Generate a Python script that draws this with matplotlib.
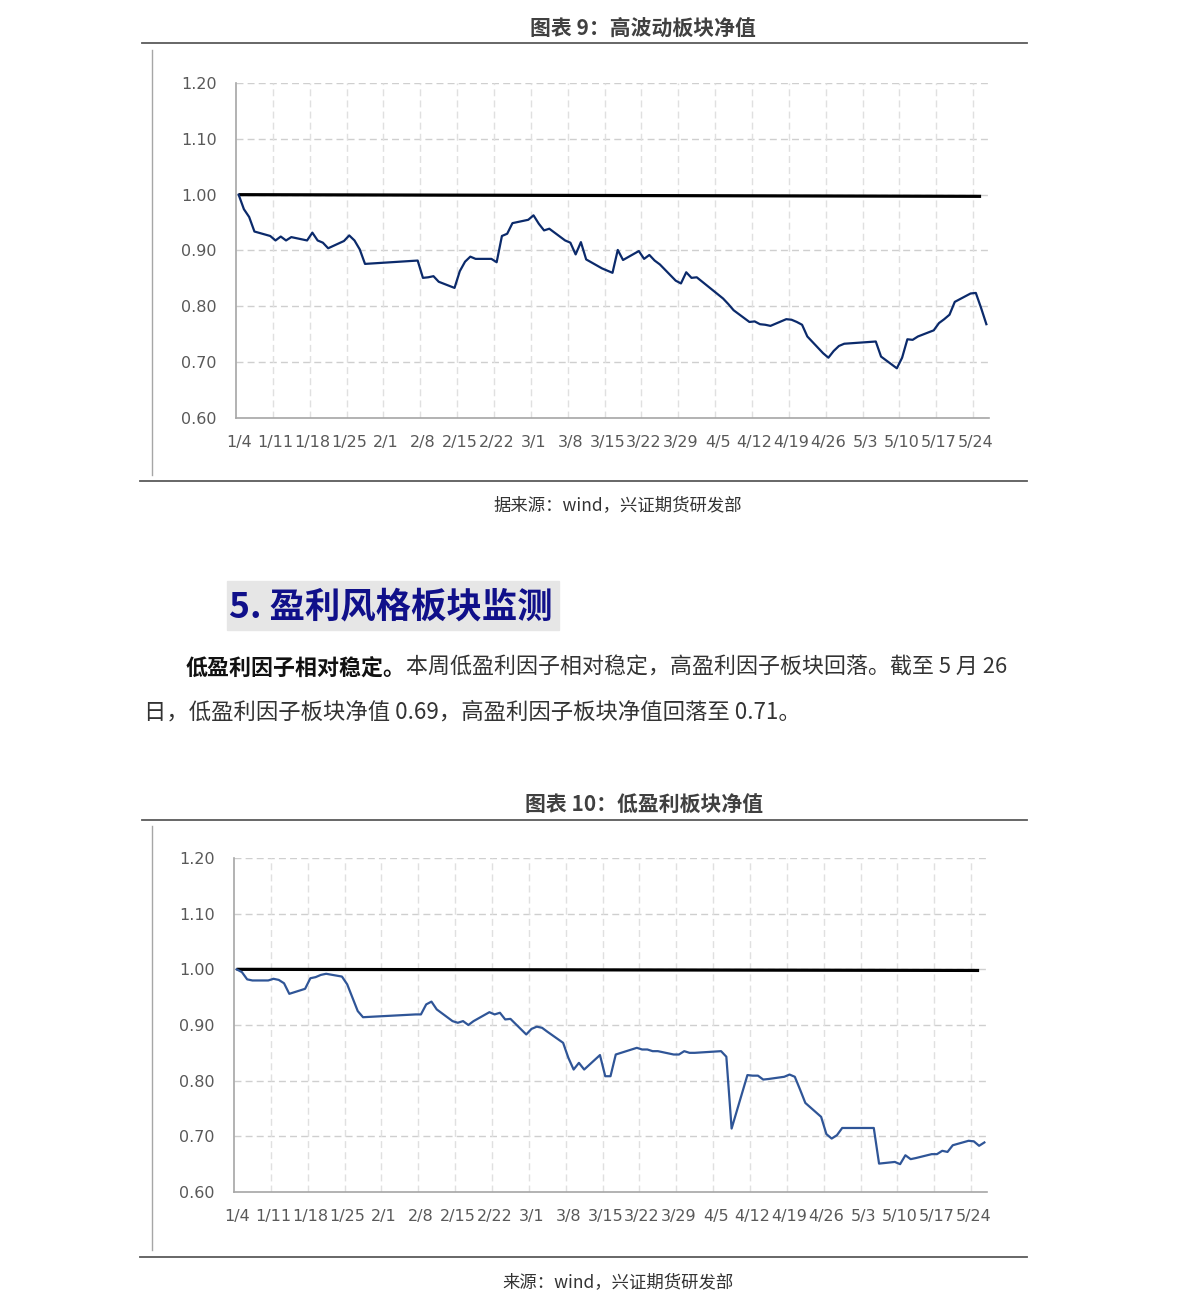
import matplotlib
matplotlib.use('Agg')
import matplotlib.pyplot as plt
import numpy as np
import pandas as pd

plt.rcParams['font.family'] = ['Noto Sans CJK SC', 'DejaVu Sans']

W, H = 1191, 1311

# x axis labels (weekly, 2022)
tick_labels = ['1/4', '1/11', '1/18', '1/25', '2/1', '2/8', '2/15', '2/22', '3/1', '3/8',
               '3/15', '3/22', '3/29', '4/5', '4/12', '4/19', '4/26', '5/3', '5/10',
               '5/17', '5/24']

# chart 9: high volatility sector net value
hv_dates = ['1/4', '1/5', '1/6', '1/7', '1/10', '1/11', '1/12', '1/13', '1/14', '1/17',
            '1/18', '1/19', '1/20', '1/21', '1/24', '1/25', '1/26', '1/27', '1/28', '2/7',
            '2/8', '2/9', '2/10', '2/11', '2/14', '2/15', '2/16', '2/17', '2/18', '2/21',
            '2/22', '2/23', '2/24', '2/25', '2/28', '3/1', '3/2', '3/3', '3/4', '3/7',
            '3/8', '3/9', '3/10', '3/11', '3/14', '3/15', '3/16', '3/17', '3/18', '3/21',
            '3/22', '3/23', '3/24', '3/25', '3/28', '3/29', '3/30', '3/31', '4/1', '4/6',
            '4/7', '4/8', '4/11', '4/12', '4/13', '4/14', '4/15', '4/18', '4/19', '4/20',
            '4/21', '4/22', '4/25', '4/26', '4/27', '4/28', '4/29', '5/5', '5/6', '5/9',
            '5/10', '5/11', '5/12', '5/13', '5/16', '5/17', '5/18', '5/19', '5/20', '5/23',
            '5/24', '5/25', '5/26']
hv_values = [1.000, 0.974, 0.960, 0.934, 0.926, 0.918, 0.925, 0.918, 0.924, 0.918,
             0.932, 0.918, 0.914, 0.904, 0.917, 0.927, 0.918, 0.902, 0.876, 0.882,
             0.851, 0.852, 0.854, 0.844, 0.833, 0.863, 0.880, 0.889, 0.885, 0.885,
             0.879, 0.926, 0.930, 0.949, 0.955, 0.963, 0.948, 0.936, 0.939, 0.918,
             0.914, 0.893, 0.915, 0.884, 0.868, 0.864, 0.860, 0.901, 0.883, 0.899,
             0.885, 0.892, 0.882, 0.875, 0.846, 0.841, 0.861, 0.851, 0.852, 0.814,
             0.804, 0.793, 0.772, 0.773, 0.768, 0.767, 0.765, 0.777, 0.776, 0.772,
             0.767, 0.746, 0.716, 0.708, 0.720, 0.729, 0.733, 0.737, 0.710, 0.689,
             0.708, 0.741, 0.740, 0.746, 0.757, 0.770, 0.777, 0.785, 0.808, 0.823,
             0.824, 0.797, 0.768]
hv_base_dates = ['1/4', '5/25']
hv_base_values = [1.000, 0.997]

# chart 10: low profitability sector net value
lp_dates = hv_dates
lp_values = [1.000, 0.995, 0.982, 0.980, 0.980, 0.983, 0.981, 0.975, 0.956, 0.965,
             0.984, 0.986, 0.990, 0.992, 0.987, 0.973, 0.949, 0.925, 0.914, 0.919,
             0.919, 0.937, 0.942, 0.928, 0.907, 0.904, 0.907, 0.900, 0.907, 0.923,
             0.919, 0.922, 0.910, 0.911, 0.883, 0.893, 0.897, 0.895, 0.888, 0.868,
             0.841, 0.820, 0.832, 0.820, 0.846, 0.808, 0.808, 0.847, 0.850, 0.859,
             0.856, 0.856, 0.853, 0.853, 0.847, 0.847, 0.853, 0.850, 0.850, 0.853,
             0.843, 0.714, 0.810, 0.809, 0.809, 0.802, 0.803, 0.807, 0.811, 0.807,
             0.784, 0.760, 0.735, 0.704, 0.696, 0.702, 0.715, 0.715, 0.651, 0.654,
             0.650, 0.666, 0.659, 0.661, 0.668, 0.668, 0.674, 0.672, 0.684, 0.692,
             0.691, 0.683, 0.689]
lp_base_dates = ['1/4', '5/25']
lp_base_values = [1.000, 0.998]

start = pd.Timestamp('2022-01-04')


def day_num(labels):
    return np.array([(pd.Timestamp('2022/' + s) - start).days for s in labels])


fig = plt.figure(figsize=(W / 100, H / 100), dpi=100)

# page layer in pixel coordinates
page = fig.add_axes([0, 0, 1, 1])
page.set_xlim(0, W)
page.set_ylim(H, 0)
page.axis('off')


def page_rule(y, x0=140, x1=1027):
    page.plot([x0, x1], [y, y], color='#5a5a5a', lw=1.3)


def chart(left, top, right, bottom, dates, values, base_dates, base_values, color, lw):
    ax = fig.add_axes([left / W, 1 - bottom / H, (right - left) / W, (bottom - top) / H])
    ax.plot(day_num(base_dates), base_values, color='black', lw=2.3, solid_capstyle='butt')
    ax.plot(day_num(dates), values, color=color, lw=lw)
    ax.set_xlim(-0.5, 142.5)
    ax.set_ylim(0.6, 1.2)
    ax.set_yticks(np.arange(0.6, 1.21, 0.1))
    ax.set_yticklabels([f'{v:.2f}' for v in np.arange(0.6, 1.21, 0.1)])
    ax.set_xticks(np.arange(len(tick_labels)) * 7)
    ax.set_xticklabels(tick_labels)
    ax.tick_params(length=0, labelsize=11.5, colors='#595959', labelfontfamily='DejaVu Sans')
    ax.tick_params(axis='y', pad=14)
    ax.tick_params(axis='x', pad=12)
    for v in np.arange(0.7, 1.21, 0.1):
        ax.axhline(v, color='#cfcfcf', lw=1, ls=(0, (5, 3)), zorder=0)
    for d in np.arange(6.5, 140, 7):
        ax.axvline(d, color='#e0e0e0', lw=1, ls=(0, (5, 3)), zorder=0)
    for s in ['top', 'right']:
        ax.spines[s].set_visible(False)
    for s in ['left', 'bottom']:
        ax.spines[s].set_color('#a6a6a6')
        ax.spines[s].set_linewidth(1.2)
    ax.set_facecolor('none')
    return ax


# chart 9
page.text(643, 28, '图表 9：高波动板块净值', ha='center', va='center', fontsize=15,
          fontweight='bold', color='#404040')
page_rule(43, 142, 1027)
page.plot([152, 152], [50, 475], color='#a6a6a6', lw=1)
chart(236, 83, 989, 418, hv_dates, hv_values, hv_base_dates, hv_base_values, '#0b2a6b', 1.6)
page_rule(481)
page.text(618, 505, '据来源：wind，兴证期货研发部', ha='center', va='center', fontsize=12.5,
          color='#333333')

# section heading
page.add_patch(plt.Rectangle((227, 581), 332, 49, color='#e6e6e6', zorder=0))
page.text(229, 607, '5. 盈利风格板块监测', ha='left', va='center', fontsize=25.5,
          fontweight='bold', color='#10108a')

# paragraph
t1 = page.text(186, 668, '低盈利因子相对稳定。', ha='left', va='center', fontsize=15.8,
               fontweight='bold', color='#111111')
fig.canvas.draw()
bb = t1.get_window_extent()
x_after = bb.x1
page.text(x_after, 668, '本周低盈利因子相对稳定，高盈利因子板块回落。截至 5 月 26',
          ha='left', va='center', fontsize=15.8, color='#333333')
page.text(144, 712, '日，低盈利因子板块净值 0.69，高盈利因子板块净值回落至 0.71。',
          ha='left', va='center', fontsize=16.1, color='#333333')

# chart 10
page.text(644, 805, '图表 10：低盈利板块净值', ha='center', va='center', fontsize=15,
          fontweight='bold', color='#404040')
page_rule(820, 142, 1027)
page.plot([152, 152], [826, 1250], color='#a6a6a6', lw=1)
chart(234, 858, 987, 1192, lp_dates, lp_values, lp_base_dates, lp_base_values, '#2f5597', 1.6)
page_rule(1257)
page.text(618, 1282, '来源：wind，兴证期货研发部', ha='center', va='center', fontsize=12.5,
          color='#333333')

fig.savefig('out.png', dpi=100)
